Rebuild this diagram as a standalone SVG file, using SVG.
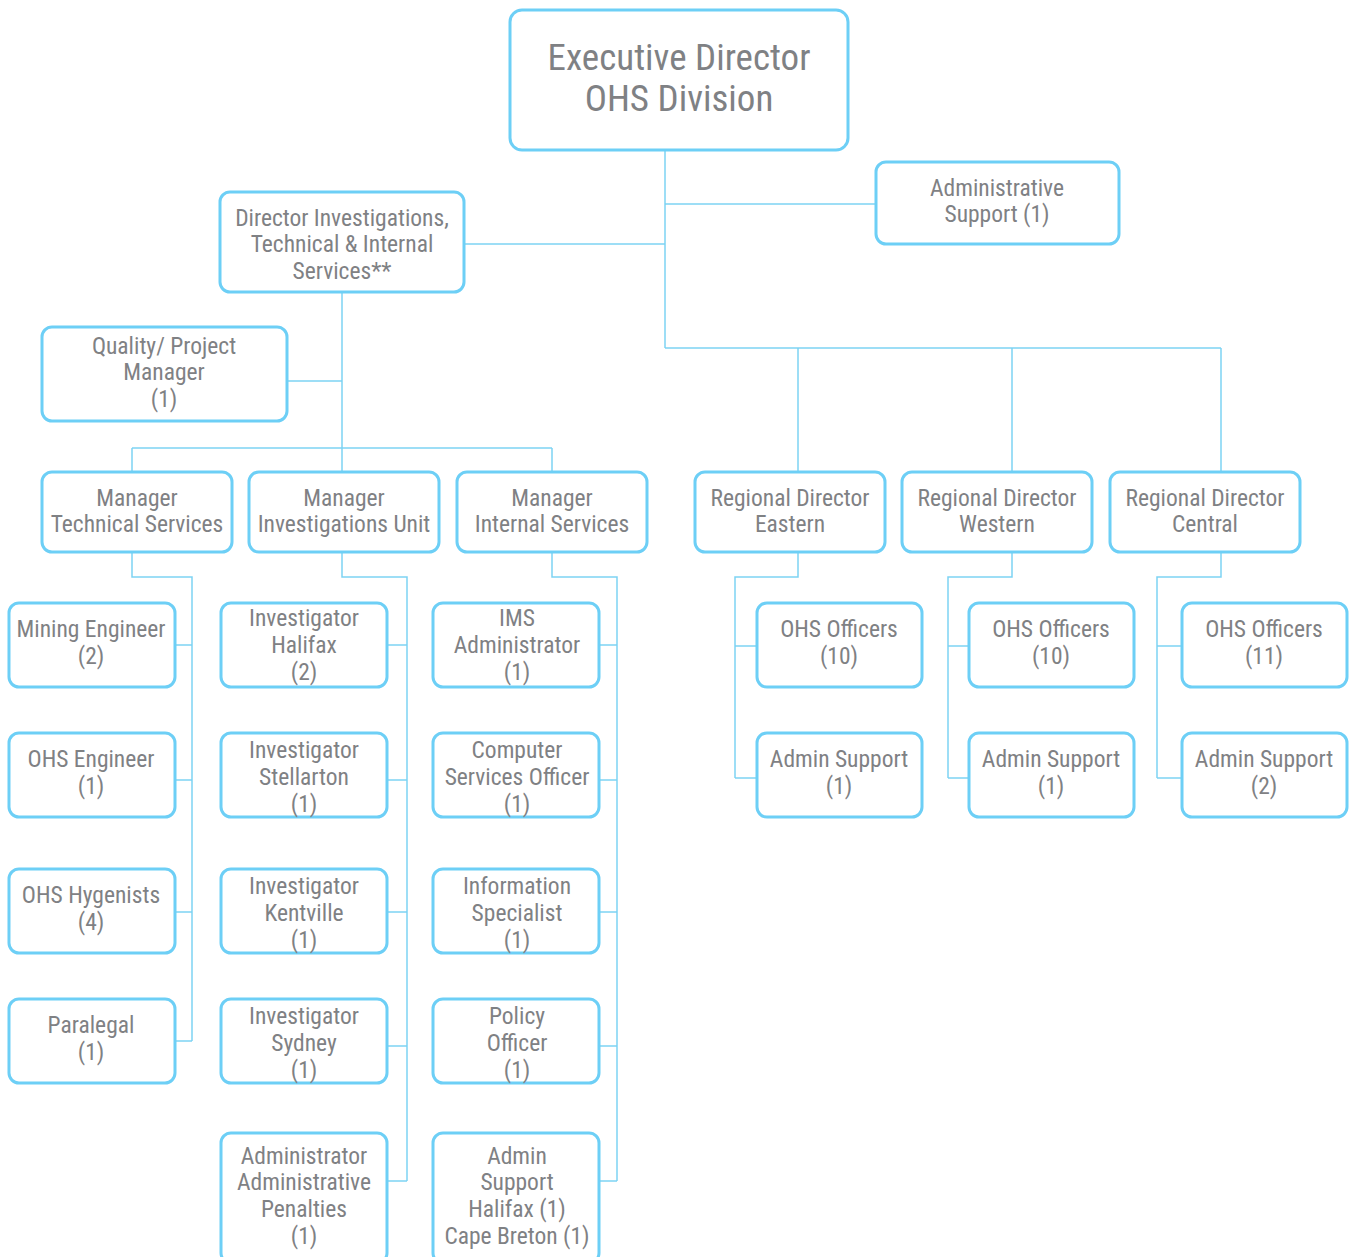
<svg xmlns="http://www.w3.org/2000/svg" width="1351" height="1257" viewBox="0 0 1351 1257">
<style>
.b{fill:#fff;stroke:#6dcff6;stroke-width:3}
.c{fill:none;stroke:#7dd3f4;stroke-width:1.5}
text{font-family:"Roboto Condensed","Liberation Sans Narrow",Roboto,sans-serif;fill:#7f8184;font-size:23.5px;text-anchor:middle}
.big{font-size:37px}
</style>
<rect width="1351" height="1257" fill="#fff"/>
<g id="connectors" class="c">
<path d="M665 150V348M665 204H876M464 244H665M665 348H1221M798 348V472M1012 348V472M1221 348V472"/>
<path d="M342 292V472M287 381H342M132 448H552M132 448V472M552 448V472"/>
<path d="M132 552V577H192V1041M175 645H192M175 780H192M175 912H192M175 1041H192"/>
<path d="M342 552V577H407V1181M387 645H407M387 780H407M387 912H407M387 1046H407M387 1181H407"/>
<path d="M552 552V577H617V1181M599 645H617M599 780H617M599 912H617M599 1046H617M599 1181H617"/>
<path d="M798 552V577H735V778M735 646H757M735 778H757"/>
<path d="M1012 552V577H948V778M948 646H969M948 778H969"/>
<path d="M1221 552V577H1157V778M1157 646H1182M1157 778H1182"/>
</g>
<g id="exec"><rect class="b" x="510" y="10" width="338" height="140" rx="12"/><text class="big" x="679" y="70">Executive Director</text><text class="big" x="679" y="111">OHS Division</text></g>
<g id="adminsup"><rect class="b" x="876" y="162" width="243" height="82" rx="10"/><text x="997" y="196">Administrative</text><text x="997" y="222">Support (1)</text></g>
<g id="director"><rect class="b" x="220" y="192" width="244" height="100" rx="10"/><text x="342" y="226">Director Investigations,</text><text x="342" y="252">Technical &amp; Internal</text><text x="342" y="279">Services**</text></g>
<g id="quality"><rect class="b" x="42" y="327" width="245" height="94" rx="10"/><text x="164" y="354">Quality/ Project</text><text x="164" y="380">Manager</text><text x="164" y="407">(1)</text></g>
<g id="mgrtech"><rect class="b" x="42" y="472" width="190" height="80" rx="10"/><text x="137" y="506">Manager</text><text x="137" y="532">Technical Services</text></g>
<g id="mgrinv"><rect class="b" x="249" y="472" width="190" height="80" rx="10"/><text x="344" y="506">Manager</text><text x="344" y="532">Investigations Unit</text></g>
<g id="mgrint"><rect class="b" x="457" y="472" width="190" height="80" rx="10"/><text x="552" y="506">Manager</text><text x="552" y="532">Internal Services</text></g>
<g id="rdeast"><rect class="b" x="695" y="472" width="190" height="80" rx="10"/><text x="790" y="506">Regional Director</text><text x="790" y="532">Eastern</text></g>
<g id="rdwest"><rect class="b" x="902" y="472" width="190" height="80" rx="10"/><text x="997" y="506">Regional Director</text><text x="997" y="532">Western</text></g>
<g id="rdcent"><rect class="b" x="1110" y="472" width="190" height="80" rx="10"/><text x="1205" y="506">Regional Director</text><text x="1205" y="532">Central</text></g>
<g id="mining"><rect class="b" x="9" y="603" width="166" height="84" rx="10"/><text x="91" y="637">Mining Engineer</text><text x="91" y="664">(2)</text></g>
<g id="ohseng"><rect class="b" x="9" y="733" width="166" height="84" rx="10"/><text x="91" y="767">OHS Engineer</text><text x="91" y="794">(1)</text></g>
<g id="hyg"><rect class="b" x="9" y="869" width="166" height="84" rx="10"/><text x="91" y="903">OHS Hygenists</text><text x="91" y="930">(4)</text></g>
<g id="paralegal"><rect class="b" x="9" y="999" width="166" height="84" rx="10"/><text x="91" y="1033">Paralegal</text><text x="91" y="1060">(1)</text></g>
<g id="invhfx"><rect class="b" x="221" y="603" width="166" height="84" rx="10"/><text x="304" y="626">Investigator</text><text x="304" y="653">Halifax</text><text x="304" y="680">(2)</text></g>
<g id="invstel"><rect class="b" x="221" y="733" width="166" height="84" rx="10"/><text x="304" y="758">Investigator</text><text x="304" y="785">Stellarton</text><text x="304" y="812">(1)</text></g>
<g id="invkent"><rect class="b" x="221" y="869" width="166" height="84" rx="10"/><text x="304" y="894">Investigator</text><text x="304" y="921">Kentville</text><text x="304" y="948">(1)</text></g>
<g id="invsyd"><rect class="b" x="221" y="999" width="166" height="84" rx="10"/><text x="304" y="1024">Investigator</text><text x="304" y="1051">Sydney</text><text x="304" y="1078">(1)</text></g>
<g id="adminpen"><rect class="b" x="221" y="1133" width="166" height="130" rx="10"/><text x="304" y="1164">Administrator</text><text x="304" y="1190">Administrative</text><text x="304" y="1217">Penalties</text><text x="304" y="1244">(1)</text></g>
<g id="ims"><rect class="b" x="433" y="603" width="166" height="84" rx="10"/><text x="517" y="626">IMS</text><text x="517" y="653">Administrator</text><text x="517" y="680">(1)</text></g>
<g id="comp"><rect class="b" x="433" y="733" width="166" height="84" rx="10"/><text x="517" y="758">Computer</text><text x="517" y="785">Services Officer</text><text x="517" y="812">(1)</text></g>
<g id="info"><rect class="b" x="433" y="869" width="166" height="84" rx="10"/><text x="517" y="894">Information</text><text x="517" y="921">Specialist</text><text x="517" y="948">(1)</text></g>
<g id="policy"><rect class="b" x="433" y="999" width="166" height="84" rx="10"/><text x="517" y="1024">Policy</text><text x="517" y="1051">Officer</text><text x="517" y="1078">(1)</text></g>
<g id="adminhfx"><rect class="b" x="433" y="1133" width="166" height="130" rx="10"/><text x="517" y="1164">Admin</text><text x="517" y="1190">Support</text><text x="517" y="1217">Halifax (1)</text><text x="517" y="1244">Cape Breton (1)</text></g>
<g id="ohsE"><rect class="b" x="757" y="603" width="165" height="84" rx="10"/><text x="839" y="637">OHS Officers</text><text x="839" y="664">(10)</text></g>
<g id="admE"><rect class="b" x="757" y="733" width="165" height="84" rx="10"/><text x="839" y="767">Admin Support</text><text x="839" y="794">(1)</text></g>
<g id="ohsW"><rect class="b" x="969" y="603" width="165" height="84" rx="10"/><text x="1051" y="637">OHS Officers</text><text x="1051" y="664">(10)</text></g>
<g id="admW"><rect class="b" x="969" y="733" width="165" height="84" rx="10"/><text x="1051" y="767">Admin Support</text><text x="1051" y="794">(1)</text></g>
<g id="ohsC"><rect class="b" x="1182" y="603" width="165" height="84" rx="10"/><text x="1264" y="637">OHS Officers</text><text x="1264" y="664">(11)</text></g>
<g id="admC"><rect class="b" x="1182" y="733" width="165" height="84" rx="10"/><text x="1264" y="767">Admin Support</text><text x="1264" y="794">(2)</text></g>
</svg>
